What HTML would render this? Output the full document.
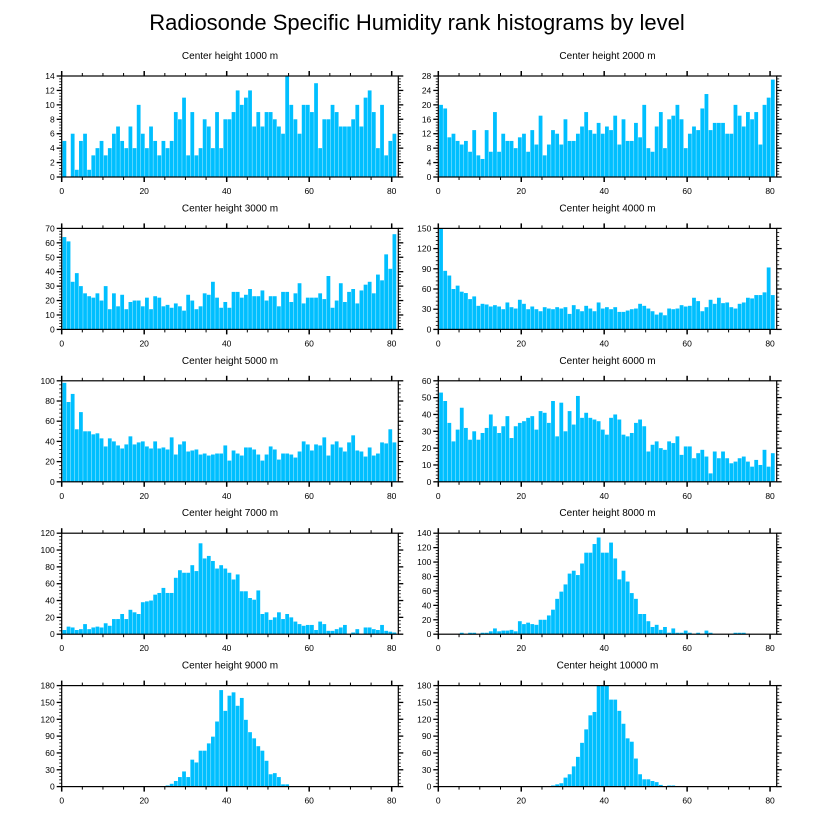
<!DOCTYPE html>
<html><head><meta charset="utf-8">
<style>
html,body{margin:0;padding:0;background:#fff;}
svg{display:block;font-family:"Liberation Sans",sans-serif;}
</style></head>
<body>
<svg id="chart" width="816" height="824" viewBox="0 0 816 824" xmlns="http://www.w3.org/2000/svg">
<text x="417" y="30" text-anchor="middle" font-size="22">Radiosonde Specific Humidity rank histograms by level</text>
</svg>
<script>
const panelTitles = ["Center height 1000 m","Center height 2000 m","Center height 3000 m","Center height 4000 m","Center height 5000 m","Center height 6000 m","Center height 7000 m","Center height 8000 m","Center height 9000 m","Center height 10000 m"];
const yMaxes = [14,28,70,150,100,60,120,140,180,180];
const yStepsMajor = [2,4,10,30,20,10,20,20,30,30];
const xTickLabels = [0,20,40,60,80];
const h1000 = [5,0,6,1,5,6,1,3,4,5,3,4,6,7,5,4,7,4,10,6,4,7,5,3,5,4,5,9,8,11,3,9,3,4,8,7,4,9,4,8,8,9,12,10,11,12,7,9,7,9,9,8,7,6,14,10,8,6,10,10,9,13,4,8,8,10,9,7,7,7,8,10,7,11,12,9,4,10,3,5,6];
const h2000 = [20,19,11,12,10,9,10,7,13,6,5,13,7,18,7,12,10,10,8,11,12,7,13,9,17,6,9,13,12,9,16,10,10,12,14,18,13,12,15,12,14,13,17,9,16,10,10,15,11,20,8,7,14,18,8,16,17,20,16,8,12,14,13,19,23,13,15,15,15,12,12,20,17,14,18,16,18,9,20,22,27];
const h3000 = [64,61,33,39,30,25,23,22,25,20,30,14,25,16,24,14,19,20,20,16,22,14,23,22,16,17,15,18,16,13,24,20,14,16,25,24,33,22,15,19,15,26,26,22,24,28,23,23,27,20,23,23,16,26,26,19,25,32,18,22,22,22,25,21,37,15,20,32,19,26,28,18,27,31,33,25,38,34,52,42,66];
const h4000 = [150,87,80,60,65,56,54,45,49,35,38,37,34,36,34,30,40,33,31,44,38,30,34,30,27,33,31,30,33,31,33,23,36,30,27,35,31,27,40,31,33,30,33,26,26,28,30,31,38,35,31,27,22,25,21,31,30,31,36,34,35,47,42,27,33,44,38,47,39,40,33,31,38,40,47,46,51,51,55,92,51];
const h5000 = [98,79,87,52,69,50,50,47,48,43,35,43,40,36,33,37,45,37,39,40,35,33,40,33,34,32,44,27,37,40,30,31,32,27,28,26,27,28,28,36,21,31,28,26,34,34,32,27,21,27,35,32,22,28,28,27,24,30,40,37,31,37,36,44,26,37,40,34,30,39,46,31,30,25,34,26,28,39,38,52,39];
const h6000 = [53,48,35,24,31,44,32,25,30,25,29,32,40,33,29,33,39,26,33,35,36,38,39,31,42,41,35,48,27,47,30,42,34,51,38,41,38,37,36,31,28,38,40,37,28,27,29,35,37,33,18,22,24,20,19,24,23,27,16,21,21,14,17,19,15,5,18,14,18,14,11,12,14,15,12,9,13,10,19,9,17];
const h7000 = [5,9,8,5,6,12,6,8,9,8,13,10,18,18,24,18,29,26,24,38,39,40,47,49,55,49,49,67,76,73,73,82,75,108,90,93,87,78,82,78,73,65,71,51,51,43,41,52,24,26,17,20,26,18,24,20,15,12,10,11,11,5,15,12,4,4,6,8,11,0,2,6,0,8,8,6,5,11,4,3,2];
const h8000 = [0,0,0,0,0,2,0,2,2,0,2,2,4,8,4,5,5,6,4,18,14,16,14,13,20,20,26,34,49,59,69,84,88,82,98,113,113,125,134,113,113,127,105,76,88,73,57,49,28,28,18,10,13,6,10,2,8,2,2,5,2,0,2,0,5,2,0,0,0,0,0,2,2,2,0,0,0,0,0,0,0];
const h9000 = [0,0,0,0,0,0,0,0,0,0,0,0,0,0,0,0,0,0,0,0,1,1,0,1,1,2,5,10,17,27,17,48,43,64,64,77,89,116,172,135,162,168,144,158,119,97,86,72,64,46,22,24,17,4,4,1,0,1,1,1,0,1,0,1,0,0,0,0,0,0,0,0,1,0,0,0,0,0,0,0,0];
const h10000 = [0,0,0,0,0,0,0,0,0,0,0,0,0,0,0,0,0,0,0,0,0,0,0,0,0,0,1,2,4,6,16,22,36,53,78,102,127,133,185,190,185,155,155,135,112,86,80,50,22,13,13,10,8,3,1,2,2,1,0,0,0,0,0,0,0,0,0,0,0,0,0,0,0,0,0,0,0,0,0,0,0];
const seriesList = [h1000,h2000,h3000,h4000,h5000,h6000,h7000,h8000,h9000,h10000];

const svg = document.getElementById('chart');
const NS = 'http://www.w3.org/2000/svg';
function mk(tag, attrs, parent){
  const e = document.createElementNS(NS, tag);
  for (const k in attrs) e.setAttribute(k, attrs[k]);
  (parent||svg).appendChild(e);
  return e;
}
const XMAX = 81.6;
for (let p = 0; p < 10; p++) {
  const col = p % 2, row = Math.floor(p / 2);
  const left = col ? 438.3 : 61.7;
  const pw = col ? 338.4 : 336.6;
  const top = 76 + row * 152.4;
  const ph = 101;
  const ymax = yMaxes[p];
  const xs = v => left + v / XMAX * pw;
  const ys = v => top + ph - Math.min(v, ymax) / ymax * ph;
  const g = mk('g', {});
  
  
  const t = mk('text', {x: left + pw / 2, y: top - 17, 'text-anchor': 'middle', 'font-size': '10'}, g);
  
  
  t.textContent = panelTitles[p];
  seriesList[p].forEach((v, i) => {
    if (v <= 0) return;
    const x0 = xs(i + 0.2), x1 = xs(i + 1.2);
    const b = mk('rect', {x: x0, y: ys(v), width: Math.max(0.5, x1 - x0 - 0.35), height: ys(0) - ys(v), fill: '#00bfff'}, g);
    
    
  });
  const fr = mk('rect', {x: left, y: top, width: pw, height: ph, fill: 'none', stroke: '#000', 'stroke-width': '1.2'}, g);
  
  
  for (let v = 0; v <= 80; v += 5) {
    const major = v % 20 === 0;
    const L = major ? 5 : 3;
    const x = xs(v);
    mk('line', {x1: x, x2: x, y1: top + ph, y2: top + ph + L, stroke: '#000', 'stroke-width': major ? 1.5 : 1}, g);
    mk('line', {x1: x, x2: x, y1: top, y2: top - L, stroke: '#000', 'stroke-width': major ? 1.5 : 1}, g);
  }
  xTickLabels.forEach(v => {
    const tl = mk('text', {x: xs(v), y: top + ph + 17, 'text-anchor': 'middle', 'font-size': '8.5'}, g);
    
    
    tl.textContent = v;
  });
  const st = yStepsMajor[p], minor = st / 5;
  for (let k = 0; k * minor <= ymax + 1e-9; k++) {
    const v = k * minor;
    const major = k % 5 === 0;
    const L = major ? 5 : 2.5;
    const y = ys(v);
    mk('line', {x1: left, x2: left - L, y1: y, y2: y, stroke: '#000', 'stroke-width': major ? 1.3 : 0.8}, g);
    mk('line', {x1: left + pw, x2: left + pw + L, y1: y, y2: y, stroke: '#000', 'stroke-width': major ? 1.3 : 0.8}, g);
    if (major) {
      const yl = mk('text', {x: left - 7, y: y + 3, 'text-anchor': 'end', 'font-size': '8.5'}, g);
      
      
      yl.textContent = v;
    }
  }
}
</script>
</body></html>
